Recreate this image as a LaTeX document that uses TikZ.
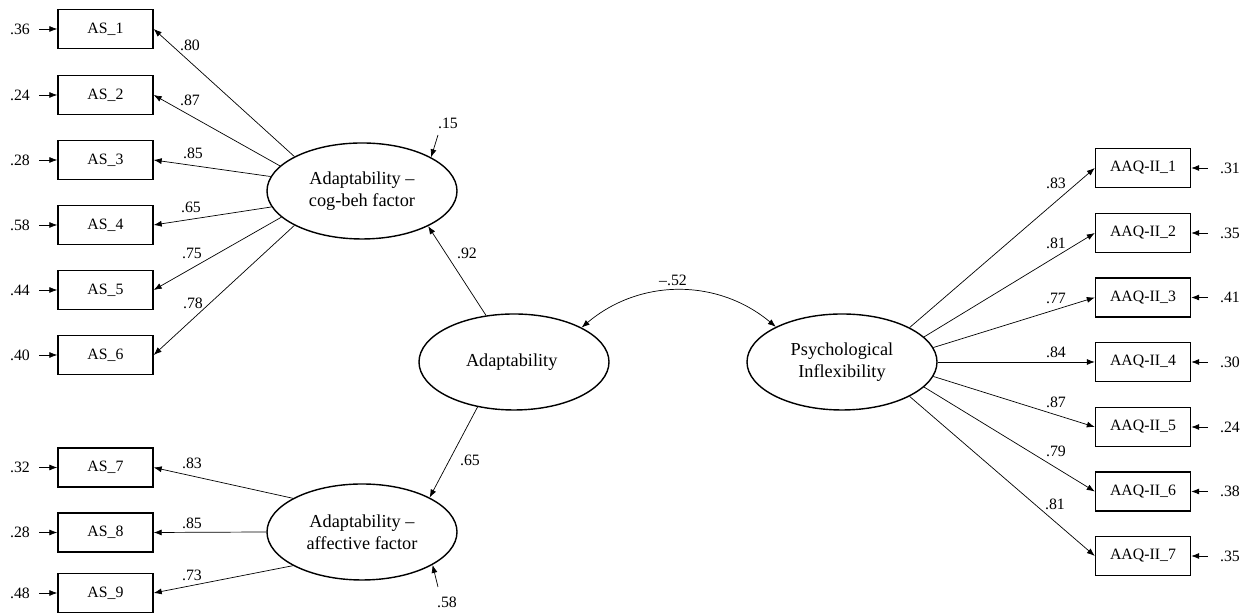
\documentclass[tikz,border=0pt]{standalone}
\usepackage{fontspec}
\setmainfont{Liberation Serif}
\usetikzlibrary{shapes.geometric,arrows.meta}
\tikzset{
  obsbox/.style={draw, line width=0.8pt, minimum width=1.9cm, minimum height=0.78cm, inner sep=0pt, font=\fontsize{9}{10}\selectfont},
  latent/.style={draw, ellipse, line width=0.8pt, minimum width=3.8cm, minimum height=1.92cm, inner sep=0pt, align=center, font=\fontsize{10.4}{12.5}\selectfont},
  load/.style={line width=0.4pt, -{Latex[length=1.6mm,width=1.2mm]}},
  cov/.style={line width=0.4pt, {Latex[length=1.6mm,width=1.2mm]}-{Latex[length=1.6mm,width=1.2mm]}},
  coef/.style={font=\fontsize{9}{10}\selectfont, inner sep=1pt},
}
\begin{document}
\begin{tikzpicture}
            \useasboundingbox (0,0) rectangle (25.080000,12.280000);
            {

            % Drawing latent variables
            \draw (7.240000,8.460000) node [latent] (cogbeh) { Adaptability –\\cog-beh factor };%
            \draw (10.280000,5.040000) node [latent] (adapt) { Adaptability };%
            \draw (7.240000,1.640000) node [latent] (affect) { Adaptability –\\affective factor };%
            \draw (16.840000,5.040000) node [latent] (psych) { Psychological\\Inflexibility };%

            % Drawing boxes AS
            \draw (2.110000,11.700000) node [obsbox] (as1) { AS\_1 };%
            \draw (2.110000,10.380000) node [obsbox] (as2) { AS\_2 };%
            \draw (2.110000,9.080000) node [obsbox] (as3) { AS\_3 };%
            \draw (2.110000,7.780000) node [obsbox] (as4) { AS\_4 };%
            \draw (2.110000,6.480000) node [obsbox] (as5) { AS\_5 };%
            \draw (2.110000,5.180000) node [obsbox] (as6) { AS\_6 };%
            \draw (2.110000,2.930000) node [obsbox] (as7) { AS\_7 };%
            \draw (2.110000,1.630000) node [obsbox] (as8) { AS\_8 };%
            \draw (2.110000,0.420000) node [obsbox] (as9) { AS\_9 };%

            % Drawing boxes AAQ-II
            \draw (22.860000,8.920000) node [obsbox] (aaq1) { AAQ-II\_1 };%
            \draw (22.860000,7.620000) node [obsbox] (aaq2) { AAQ-II\_2 };%
            \draw (22.860000,6.330000) node [obsbox] (aaq3) { AAQ-II\_3 };%
            \draw (22.860000,5.040000) node [obsbox] (aaq4) { AAQ-II\_4 };%
            \draw (22.860000,3.740000) node [obsbox] (aaq5) { AAQ-II\_5 };%
            \draw (22.860000,2.450000) node [obsbox] (aaq6) { AAQ-II\_6 };%
            \draw (22.860000,1.160000) node [obsbox] (aaq7) { AAQ-II\_7 };%

            % Marking error terms AS
            \draw (0.400000,11.700000) node [coef, inner sep=3pt] (e1) { .36 };%
            \draw (0.400000,10.380000) node [coef, inner sep=3pt] (e2) { .24 };%
            \draw (0.400000,9.080000) node [coef, inner sep=3pt] (e3) { .28 };%
            \draw (0.400000,7.780000) node [coef, inner sep=3pt] (e4) { .58 };%
            \draw (0.400000,6.480000) node [coef, inner sep=3pt] (e5) { .44 };%
            \draw (0.400000,5.180000) node [coef, inner sep=3pt] (e6) { .40 };%
            \draw (0.400000,2.930000) node [coef, inner sep=3pt] (e7) { .32 };%
            \draw (0.400000,1.630000) node [coef, inner sep=3pt] (e8) { .28 };%
            \draw (0.400000,0.420000) node [coef, inner sep=3pt] (e9) { .48 };%

            % Marking error terms AAQ-II
            \draw (24.600000,8.920000) node [coef, inner sep=3pt] (d1) { .31 };%
            \draw (24.600000,7.620000) node [coef, inner sep=3pt] (d2) { .35 };%
            \draw (24.600000,6.330000) node [coef, inner sep=3pt] (d3) { .41 };%
            \draw (24.600000,5.040000) node [coef, inner sep=3pt] (d4) { .30 };%
            \draw (24.600000,3.740000) node [coef, inner sep=3pt] (d5) { .24 };%
            \draw (24.600000,2.450000) node [coef, inner sep=3pt] (d6) { .38 };%
            \draw (24.600000,1.160000) node [coef, inner sep=3pt] (d7) { .35 };%

            % Drawing error arrows
            \draw [load, shorten <=2pt] (e1) -- (as1);%
            \draw [load, shorten <=2pt] (e2) -- (as2);%
            \draw [load, shorten <=2pt] (e3) -- (as3);%
            \draw [load, shorten <=2pt] (e4) -- (as4);%
            \draw [load, shorten <=2pt] (e5) -- (as5);%
            \draw [load, shorten <=2pt] (e6) -- (as6);%
            \draw [load, shorten <=2pt] (e7) -- (as7);%
            \draw [load, shorten <=2pt] (e8) -- (as8);%
            \draw [load, shorten <=2pt] (e9) -- (as9);%
            \draw [load, shorten <=3.8pt] (d1) -- (aaq1);%
            \draw [load, shorten <=3.8pt] (d2) -- (aaq2);%
            \draw [load, shorten <=3.8pt] (d3) -- (aaq3);%
            \draw [load, shorten <=3.8pt] (d4) -- (aaq4);%
            \draw [load, shorten <=3.8pt] (d5) -- (aaq5);%
            \draw [load, shorten <=3.8pt] (d6) -- (aaq6);%
            \draw [load, shorten <=3.8pt] (d7) -- (aaq7);%

            % Drawing loadings cog-beh factor
            \draw [load] (cogbeh.153) -- (as1.east);%
            \draw [load] (cogbeh.163) -- (as2.east);%
            \draw [load] (cogbeh.171) -- (as3.east);%
            \draw [load] (cogbeh.190) -- (as4.east);%
            \draw [load] (cogbeh.198) -- (as5.east);%
            \draw [load] (cogbeh.207) -- (as6.east);%

            % Drawing loadings affective factor
            \draw [load] (affect.154) -- (as7.east);%
            \draw [load] (affect.180) -- (as8.east);%
            \draw [load] (affect.206) -- (as9.east);%

            % Drawing loadings psychological inflexibility
            \draw [load] (psych.27) -- (aaq1.west);%
            \draw [load] (psych.17) -- (aaq2.west);%
            \draw [load] (psych.9) -- (aaq3.west);%
            \draw [load] (psych.0) -- (aaq4.west);%
            \draw [load] (psych.-9) -- (aaq5.west);%
            \draw [load] (psych.-17) -- (aaq6.west);%
            \draw [load] (psych.-27) -- (aaq7.west);%

            % Drawing second order paths
            \draw [load] (adapt.121) -- (cogbeh.332);%
            \draw [load] (adapt.231) -- (affect.27);%

            % Drawing covariance
            \draw [cov] (adapt.27) to [bend left=40] (psych.152);%

            % Drawing disturbances
            \coordinate (c15) at (8.760000,9.580000);%
            \coordinate (c58) at (8.760000,0.540000);%
            \draw [load] (c15) -- (cogbeh.26);%
            \draw [load] (c58) -- (affect.335);%
            \draw (8.960000,9.820000) node [coef] (r15) { .15 };%
            \draw (8.940000,0.240000) node [coef] (r58) { .58 };%

            % Marking loadings
            \draw (3.800000,11.380000) node [coef] (w1) { .80 };%
            \draw (3.800000,10.280000) node [coef] (w2) { .87 };%
            \draw (3.860000,9.220000) node [coef] (w3) { .85 };%
            \draw (3.820000,8.140000) node [coef] (w4) { .65 };%
            \draw (3.840000,7.220000) node [coef] (w5) { .75 };%
            \draw (3.860000,6.220000) node [coef] (w6) { .78 };%
            \draw (3.840000,3.020000) node [coef] (w7) { .83 };%
            \draw (3.840000,1.820000) node [coef] (w8) { .85 };%
            \draw (3.840000,0.780000) node [coef] (w9) { .73 };%
            \draw (21.120000,8.620000) node [coef] (v1) { .83 };%
            \draw (21.120000,7.420000) node [coef] (v2) { .81 };%
            \draw (21.120000,6.320000) node [coef] (v3) { .77 };%
            \draw (21.120000,5.240000) node [coef] (v4) { .84 };%
            \draw (21.120000,4.240000) node [coef] (v5) { .87 };%
            \draw (21.120000,3.260000) node [coef] (v6) { .79 };%
            \draw (21.100000,2.200000) node [coef] (v7) { .81 };%

            % Marking structural coefficients
            \draw (9.340000,7.220000) node [coef] (g1) { .92 };%
            \draw (9.400000,3.080000) node [coef] (g2) { .65 };%
            \draw (13.460000,6.680000) node [coef] (rho) { –.52 };%
            }
        \end{tikzpicture}
\end{document}
